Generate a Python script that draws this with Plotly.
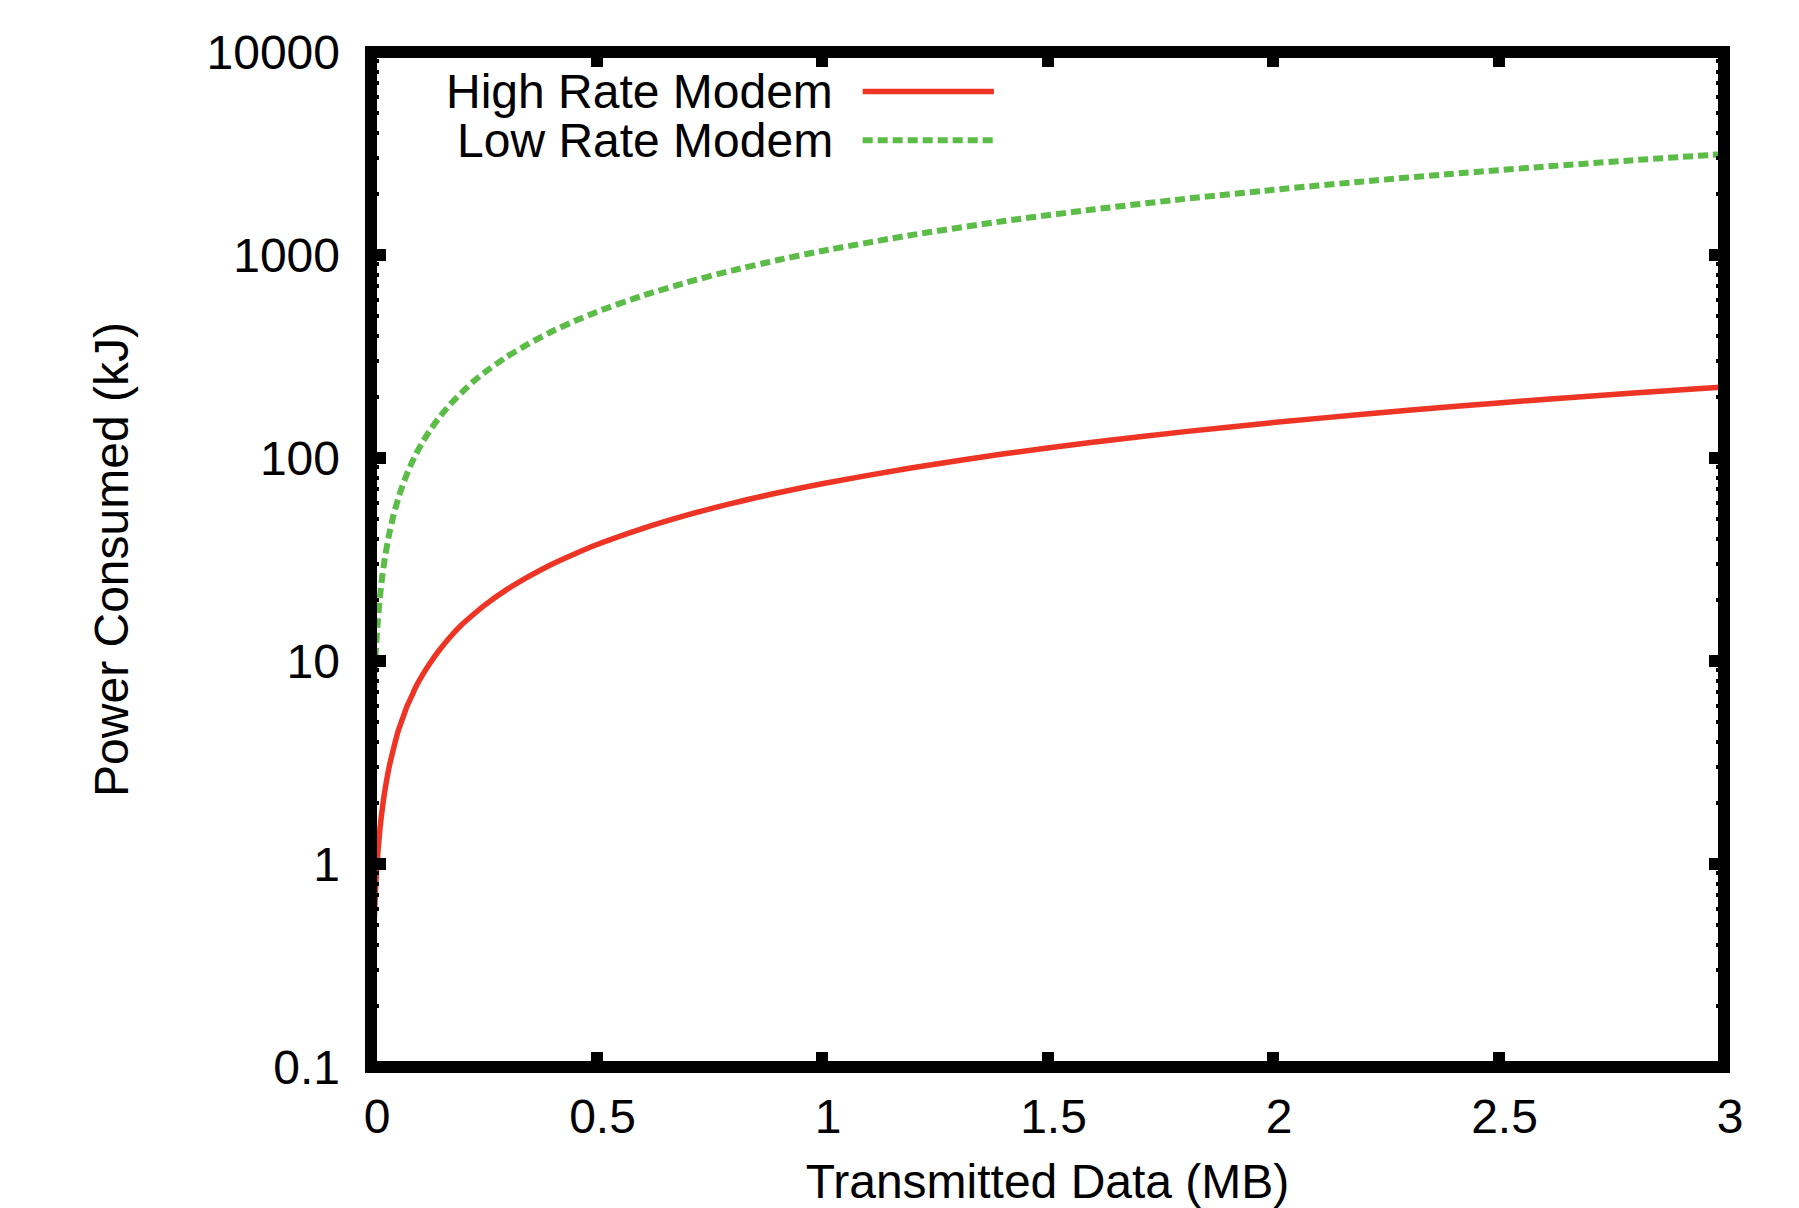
import plotly.graph_objects as go

# ---- data ----
data_mb = [0.0001, 0.0002, 0.0005, 0.001, 0.002, 0.005, 0.01, 0.015, 0.02, 0.025,
           0.03, 0.04, 0.05, 0.06, 0.07, 0.08, 0.09, 0.1, 0.115, 0.13, 0.15, 0.175,
           0.2, 0.225, 0.25, 0.3, 0.35, 0.4, 0.45, 0.5, 0.6, 0.7, 0.8, 0.9, 1.0,
           1.2, 1.4, 1.6, 1.8, 2.0, 2.2, 2.4, 2.6, 2.8, 3.0]
high_rate_kj = [0.0075, 0.015, 0.037, 0.075, 0.15, 0.37, 0.75, 1.12, 1.5, 1.87,
                2.24, 2.99, 3.7, 4.5, 5.2, 6.0, 6.7, 7.5, 8.6, 9.7, 11.2, 13.1,
                15.0, 16.8, 18.7, 22.4, 26.1, 29.9, 33.6, 37.4, 44.8, 52.3, 59.8,
                67.2, 74.7, 89.6, 104.6, 119.5, 134.5, 149.4, 164.3, 179.3, 194.2,
                209.2, 224.0]
low_rate_kj = [0.105, 0.21, 0.52, 1.05, 2.1, 5.2, 10.5, 15.7, 20.9, 26.2,
               31.4, 41.9, 52.4, 62.8, 73.3, 83.8, 94.2, 104.7, 120.4, 136, 157,
               183, 209, 236, 262, 314, 366, 419, 471, 524, 628, 733, 838, 942,
               1047, 1256, 1466, 1675, 1885, 2094, 2303, 2513, 2722, 2932, 3141]

series_names = ["High Rate Modem", "Low Rate Modem"]
x_ticks = [0, 0.5, 1, 1.5, 2, 2.5, 3]
x_tick_text = ["0", "0.5", "1", "1.5", "2", "2.5", "3"]
y_ticks = [0.1, 1, 10, 100, 1000, 10000]
y_tick_text = ["0.1", "1", "10", "100", "1000", "10000"]

RED = "#EE3424"
GREEN = "#5CBC48"
FONT = "Liberation Sans, Arial, Helvetica, sans-serif"
FS = 48

fig = go.Figure()
fig.add_trace(go.Scatter(x=data_mb, y=high_rate_kj, mode="lines", name=series_names[0],
                         line=dict(color=RED, width=5.5, shape="spline", smoothing=0.6)))
fig.add_trace(go.Scatter(x=data_mb, y=low_rate_kj, mode="lines", name=series_names[1],
                         line=dict(color=GREEN, width=6, dash="10px,5px",
                                   shape="spline", smoothing=0.6)))

# page body has an 8px margin, so the figure is 8px smaller than the window
fig.update_layout(
    width=1791, height=1200,
    margin=dict(l=363, r=75, t=44, b=141),
    paper_bgcolor="white", plot_bgcolor="white",
    showlegend=False,
    font=dict(family=FONT, size=FS, color="black"),
    xaxis=dict(
        range=[0, 3], tickvals=x_ticks, ticktext=x_tick_text, automargin=False,
        ticks="inside", ticklen=15, tickwidth=12, tickcolor="black",
        mirror="ticks", showgrid=False, zeroline=False, showline=False,
        ticklabelstandoff=17, ticklabelshift=6,
        title=dict(text="Transmitted Data (MB)", standoff=33,
                   font=dict(family=FONT, size=FS)),
    ),
    yaxis=dict(
        type="log", range=[-1, 4], tickvals=y_ticks, ticktext=y_tick_text,
        automargin=False,
        ticks="inside", ticklen=15, tickwidth=12, tickcolor="black",
        mirror="ticks", showgrid=False, zeroline=False, showline=False,
        ticklabelstandoff=30,
        minor=dict(ticks="inside", ticklen=8, tickwidth=4, tickcolor="black",
                   dtick="D1", showgrid=False),
        title=dict(text="Power Consumed (kJ)", standoff=62,
                   font=dict(family=FONT, size=FS)),
    ),
)

# frame drawn centred on the plot boundary
fig.add_shape(type="rect", xref="paper", yref="paper", x0=0, x1=1, y0=0, y1=1,
              line=dict(color="black", width=12), layer="above")

# legend (text on left, sample on right)
legend_rows = [(0.961, RED, "solid", 5.5), (0.913, GREEN, "10px,5px", 6)]
for name, (yp, col, dash, w) in zip(series_names, legend_rows):
    fig.add_annotation(xref="paper", yref="paper", x=0.343, y=yp, text=name,
                       showarrow=False, xanchor="right", yanchor="middle",
                       font=dict(family=FONT, size=FS, color="black"))
    fig.add_shape(type="line", xref="paper", yref="paper", x0=0.3634, x1=0.4604,
                  y0=yp, y1=yp, line=dict(color=col, width=w, dash=dash))

fig.write_html("out.html")
